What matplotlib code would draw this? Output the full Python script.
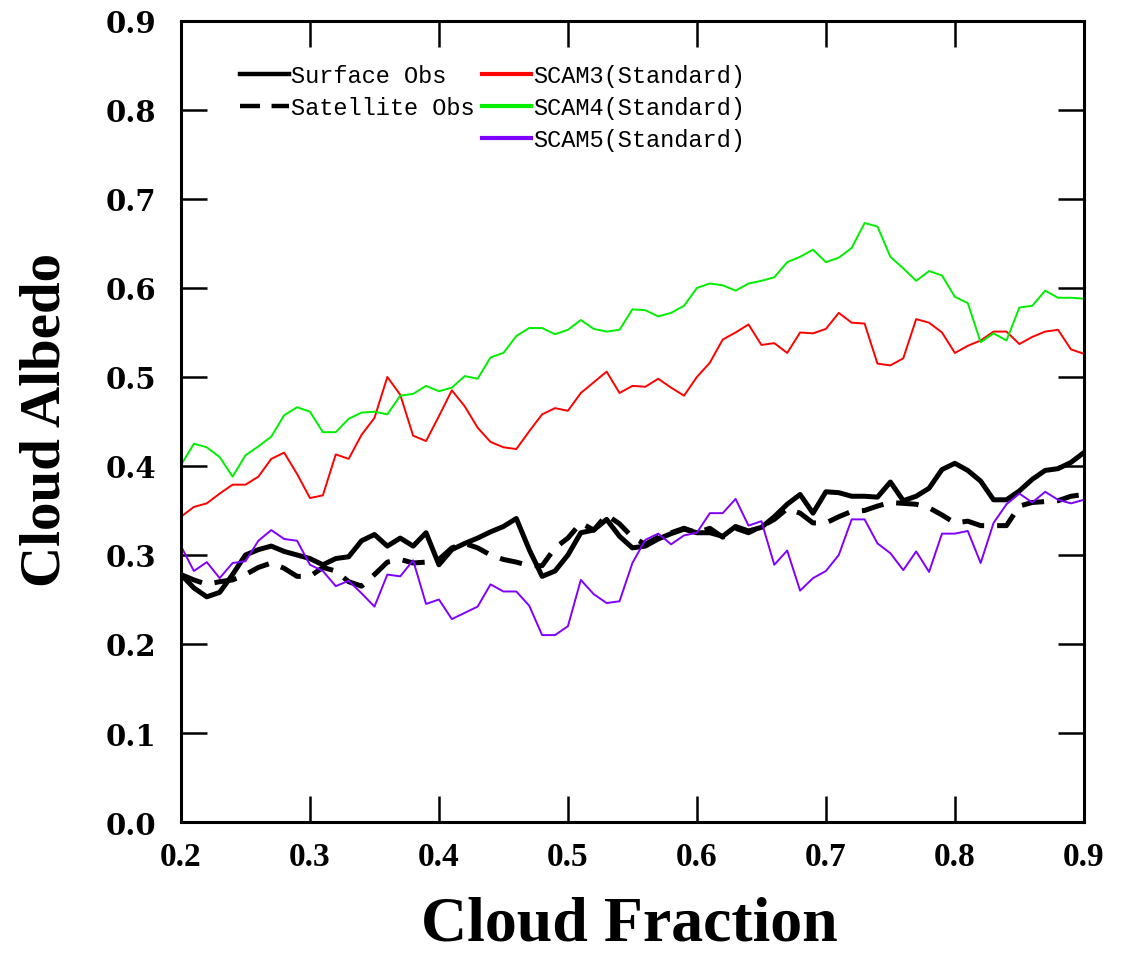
import numpy as np
import matplotlib
matplotlib.use("Agg")
import matplotlib.pyplot as plt

# ---- data ----
cloud_fraction = np.round(np.arange(0.20, 0.905, 0.01), 2)

surface_obs = [0.278, 0.263, 0.253, 0.258, 0.278, 0.300, 0.306, 0.310, 0.304, 0.300,
               0.296, 0.289, 0.296, 0.298, 0.316, 0.323, 0.310, 0.319, 0.310, 0.325,
               0.289, 0.306, 0.313, 0.319, 0.326, 0.332, 0.341, 0.306, 0.276, 0.282,
               0.300, 0.325, 0.328, 0.340, 0.321, 0.308, 0.310, 0.318, 0.324, 0.329,
               0.325, 0.325, 0.321, 0.332, 0.327, 0.331, 0.343, 0.357, 0.368, 0.347,
               0.371, 0.370, 0.366, 0.366, 0.365, 0.382, 0.361, 0.366, 0.375, 0.396,
               0.403, 0.395, 0.383, 0.362, 0.362, 0.372, 0.385, 0.395, 0.397, 0.404,
               0.415]

satellite_obs = [0.278, 0.272, 0.267, 0.270, 0.272, 0.278, 0.286, 0.291, 0.285, 0.276,
                 0.276, 0.286, 0.282, 0.270, 0.265, 0.278, 0.292, 0.295, 0.291, 0.292,
                 0.295, 0.308, 0.313, 0.308, 0.300, 0.295, 0.292, 0.288, 0.288, 0.308,
                 0.319, 0.336, 0.328, 0.345, 0.335, 0.320, 0.312, 0.320, 0.325, 0.330,
                 0.325, 0.330, 0.320, 0.330, 0.325, 0.332, 0.340, 0.352, 0.347, 0.336,
                 0.336, 0.343, 0.349, 0.350, 0.355, 0.359, 0.358, 0.357, 0.353, 0.345,
                 0.336, 0.338, 0.333, 0.333, 0.333, 0.355, 0.359, 0.360, 0.361, 0.366,
                 0.368]

scam3 = [0.343, 0.354, 0.358, 0.369, 0.379, 0.379, 0.388, 0.408, 0.415, 0.391,
         0.364, 0.367, 0.413, 0.408, 0.435, 0.454, 0.500, 0.480, 0.434, 0.428,
         0.456, 0.485, 0.467, 0.443, 0.427, 0.421, 0.419, 0.439, 0.458, 0.465,
         0.462, 0.482, 0.494, 0.506, 0.482, 0.490, 0.489, 0.498, 0.488, 0.479,
         0.500, 0.516, 0.542, 0.550, 0.559, 0.536, 0.538, 0.527, 0.550, 0.549,
         0.554, 0.572, 0.561, 0.560, 0.515, 0.513, 0.521, 0.565, 0.561, 0.550,
         0.527, 0.535, 0.541, 0.551, 0.551, 0.537, 0.545, 0.551, 0.553, 0.531,
         0.526]

scam4 = [0.401, 0.425, 0.421, 0.410, 0.388, 0.412, 0.422, 0.433, 0.457, 0.466,
         0.461, 0.438, 0.438, 0.453, 0.460, 0.461, 0.458, 0.479, 0.481, 0.490,
         0.484, 0.488, 0.501, 0.498, 0.522, 0.527, 0.546, 0.555, 0.555, 0.548,
         0.553, 0.564, 0.554, 0.551, 0.553, 0.576, 0.575, 0.568, 0.572, 0.580,
         0.600, 0.605, 0.603, 0.597, 0.605, 0.608, 0.612, 0.629, 0.635, 0.643,
         0.629, 0.634, 0.645, 0.673, 0.669, 0.635, 0.622, 0.608, 0.619, 0.614,
         0.590, 0.583, 0.539, 0.549, 0.541, 0.578, 0.580, 0.597, 0.589, 0.589,
         0.588]

scam5 = [0.310, 0.282, 0.292, 0.274, 0.291, 0.293, 0.316, 0.328, 0.318, 0.316,
         0.289, 0.282, 0.265, 0.271, 0.257, 0.242, 0.278, 0.276, 0.294, 0.245,
         0.250, 0.228, 0.235, 0.242, 0.267, 0.259, 0.259, 0.243, 0.210, 0.210,
         0.220, 0.272, 0.256, 0.246, 0.248, 0.291, 0.317, 0.324, 0.312, 0.322,
         0.325, 0.347, 0.347, 0.363, 0.333, 0.338, 0.289, 0.305, 0.260, 0.274,
         0.282, 0.300, 0.340, 0.340, 0.313, 0.302, 0.283, 0.304, 0.281, 0.324,
         0.324, 0.327, 0.291, 0.336, 0.357, 0.369, 0.359, 0.371, 0.362, 0.358,
         0.362]

x_ticks = [0.2, 0.3, 0.4, 0.5, 0.6, 0.7, 0.8, 0.9]
y_ticks = [0.0, 0.1, 0.2, 0.3, 0.4, 0.5, 0.6, 0.7, 0.8, 0.9]

# ---- figure ----
fig = plt.figure(figsize=(11.22, 9.54), dpi=100)
ax = fig.add_axes([0.1613, 0.1373, 0.8047, 0.8397])

l_sfc, = ax.plot(cloud_fraction, surface_obs, color="black", lw=3.6,
                 solid_joinstyle="round", label="Surface Obs")
l_sat, = ax.plot(cloud_fraction, satellite_obs, color="black", lw=3.6,
                 dashes=(4.5, 2.6), label="Satellite Obs")
l3, = ax.plot(cloud_fraction, scam3, color="#ff0000", lw=1.4, label="SCAM3(Standard)")
l4, = ax.plot(cloud_fraction, scam4, color="#00ee00", lw=1.4, label="SCAM4(Standard)")
l5, = ax.plot(cloud_fraction, scam5, color="#8000ff", lw=1.4, label="SCAM5(Standard)")

ax.set_xlim(0.2, 0.9)
ax.set_ylim(0.0, 0.9)
ax.set_xticks(x_ticks)
ax.set_yticks(y_ticks)
ax.set_xticklabels([f"{v:.1f}" for v in x_ticks])
ax.set_yticklabels([f"{v:.1f}" for v in y_ticks])

for sp in ax.spines.values():
    sp.set_linewidth(2.2)

ax.tick_params(axis="both", which="major", direction="in", length=19, width=1.8,
               top=True, right=True)
ax.tick_params(axis="x", pad=14)
ax.tick_params(axis="y", pad=18)
for lab in ax.get_xticklabels():
    lab.set_fontfamily("Liberation Serif")
    lab.set_fontweight("bold")
    lab.set_fontsize(24)
for lab in ax.get_yticklabels():
    lab.set_fontfamily("DejaVu Serif")
    lab.set_fontweight("bold")
    lab.set_fontsize(21)

ax.set_xlabel("Cloud Fraction", fontsize=46, fontweight="bold",
              fontfamily="Liberation Serif")
ax.set_ylabel("Cloud Albedo", fontsize=41, fontweight="bold",
              fontfamily="Liberation Serif")
ax.xaxis.set_label_coords(0.497, -0.128)
ax.yaxis.set_label_coords(-0.150, 0.503)
ax.xaxis.label.set_va("center")
ax.yaxis.label.set_va("center")

leg_font = {"family": "Liberation Mono", "size": 17}
leg1 = ax.legend(handles=[l_sfc, l_sat], loc="upper left",
                 bbox_to_anchor=(0.065, 0.946), frameon=False, prop=leg_font,
                 handlelength=2.1, handletextpad=0.08, labelspacing=0.38,
                 borderpad=0, borderaxespad=0)
ax.add_artist(leg1)
for h in leg1.get_lines():
    h.set_linewidth(3.2)
leg2 = ax.legend(handles=[l3, l4, l5], loc="upper left",
                 bbox_to_anchor=(0.333, 0.946), frameon=False, prop=leg_font,
                 handlelength=2.1, handletextpad=0.08, labelspacing=0.38,
                 borderpad=0, borderaxespad=0)
for h in leg2.get_lines():
    h.set_linewidth(3.0)

fig.savefig("out.png", dpi=100)
